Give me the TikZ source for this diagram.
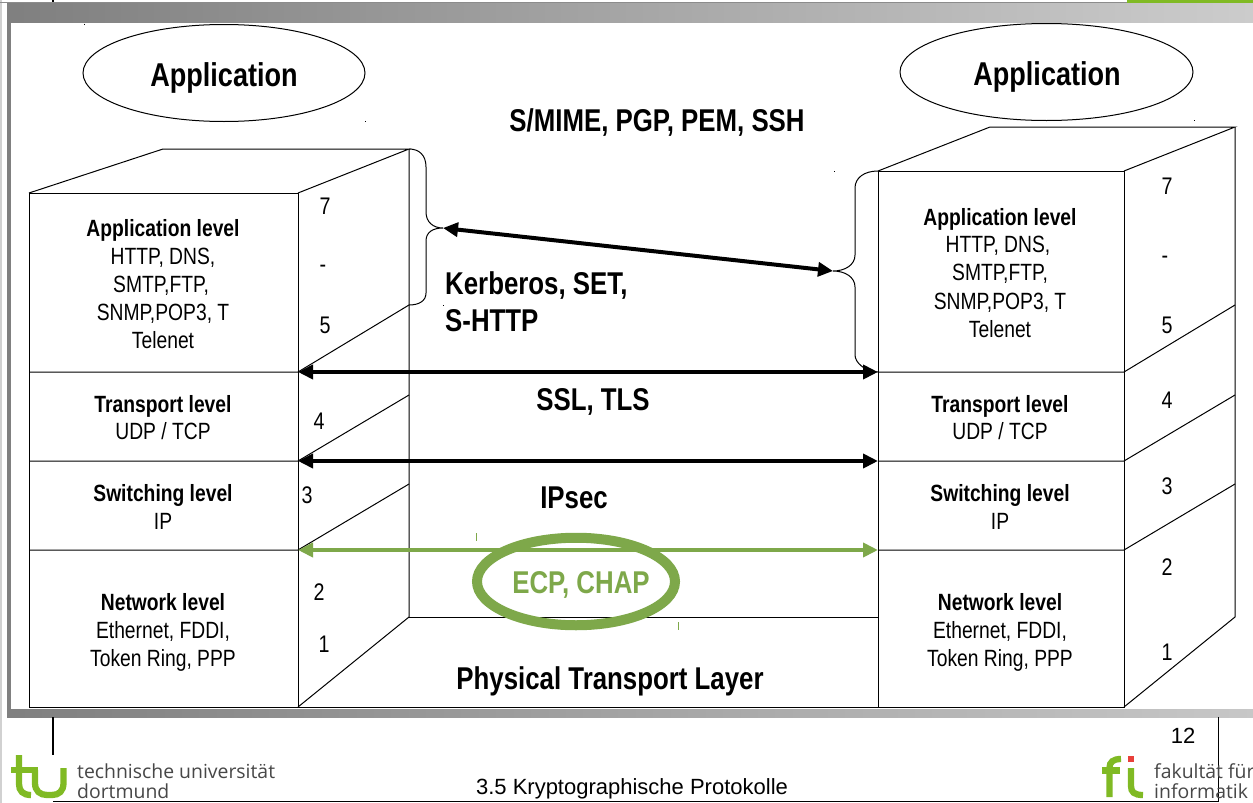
\documentclass[tikz,border=0pt]{standalone}
\usepackage{fontspec}
\setmainfont[FakeStretch=0.82]{Liberation Sans}
\newfontfamily\plainsans{Liberation Sans}
\newfontfamily\logofont{Open Sans}
\usetikzlibrary{arrows.meta,shapes.geometric}
\definecolor{tugreen}{HTML}{80BA24}
\definecolor{ecpgreen}{HTML}{7EA84A}
\definecolor{fired}{HTML}{E8403A}
\tikzset{
  x=1pt,y=-1pt,
  wire/.style={draw=black,line width=1pt},
  brace/.style={draw=black,line width=1pt},
  bigarrow/.style={line width=4pt,{Triangle[length=15pt,width=14pt]}-{Triangle[length=15pt,width=14pt]}},
  title/.style={font=\bfseries\fontsize{33}{36}\selectfont,inner sep=0pt,text height=24pt,text depth=7pt,yshift=-3.3pt},
  big/.style={font=\bfseries\fontsize{31.5}{34}\selectfont,inner sep=0pt,text height=22pt,text depth=6pt,yshift=-2.3pt},
  lvl/.style={font=\bfseries\fontsize{23.5}{26}\selectfont,inner sep=0pt,text height=16pt,text depth=5pt,yshift=-3pt},
  txt/.style={font=\fontsize{23.5}{26}\selectfont,inner sep=0pt,text height=16pt,text depth=5pt,yshift=-2.4pt},
  nr/.style={font=\fontsize{24}{26}\selectfont,inner sep=0pt,text height=17pt,text depth=0pt},
  logotext/.style={font=\logofont\fontsize{19.4}{21}\selectfont,text=black!72,inner sep=0pt,anchor=base west},
  dotmark/.style={draw=black,line width=0.6pt},
  tickmark/.style={draw=ecpgreen,line width=1pt},
  logostroke/.style={draw=tugreen,line width=6.3pt},
}
\begin{document}
\begin{tikzpicture}
\useasboundingbox (0,0) rectangle (1253,803);
\fill[white] (0,0) rectangle (1253,803);
% window frame
\fill[black!18] (0,0) rectangle (2,803);
\shade[left color=black!50,right color=black!20] (7,3) rectangle (1253,23);
\fill[black!50] (7,3) rectangle (11,717);
\shade[left color=black!50,right color=black!22] (7,709) rectangle (1253,717);
\fill[white] (11,23) rectangle (1253,708);
\fill[black!45] (0,2) rectangle (1127,3);
\fill[tugreen] (1127,0) rectangle (1253,2.5);
% slide lines
\draw[black,line width=1.4pt] (53,0) -- (53,2);
\draw[black,line width=1.4pt] (53,717) -- (53,755);
\draw[black,line width=1.4pt] (53,801.5) -- (1218.5,801.5) -- (1218.5,717);
% corner coordinates
\coordinate (la) at (29,193);
\coordinate (lb) at (298,193);
\coordinate (lc) at (163,149);
\coordinate (ld) at (409,149);
\coordinate (le) at (409,617);
\coordinate (lf) at (29,707);
\coordinate (lg) at (298,707);
\coordinate (ra) at (878,171);
\coordinate (rb) at (1124,171);
\coordinate (rc) at (990,127);
\coordinate (rd) at (1235,127);
\coordinate (re) at (1235,617);
\coordinate (rf) at (878,707);
\coordinate (rg) at (1124,707);
\coordinate (l5) at (298,372); \coordinate (l5b) at (409,305);
\coordinate (l4) at (298,461); \coordinate (l4b) at (409,395);
\coordinate (l3) at (298,550); \coordinate (l3b) at (409,484);
\coordinate (r5) at (878,372); \coordinate (r5s) at (1124,372); \coordinate (r5b) at (1235,305);
\coordinate (r4) at (878,461); \coordinate (r4s) at (1124,461); \coordinate (r4b) at (1235,395);
\coordinate (r3) at (878,550); \coordinate (r3s) at (1124,550); \coordinate (r3b) at (1235,484);
\coordinate (bl) at (443,228);
\coordinate (br) at (833,271);
% left stack
\draw[wire] (la) rectangle (lg);
\draw[wire] (lb) -- (lg);
\draw[wire] (la) -- (lc) -- (ld) -- (lb);
\draw[wire] (ld) -- (le) -- (lg);
\draw[wire] (29,372) -- (l5) -- (l5b);
\draw[wire] (29,461) -- (l4) -- (l4b);
\draw[wire] (29,550) -- (l3) -- (l3b);
\draw[wire] (le) -- (ra |- le) (lg) -- (rf);
% right stack
\draw[wire] (ra) rectangle (rg);
\draw[wire] (ra) -- (rc) -- (rd) -- (rb);
\draw[wire] (rd) -- (re) -- (rg);
\draw[wire] (r5) -- (r5s) -- (r5b);
\draw[wire] (r4) -- (r4s) -- (r4b);
\draw[wire] (r3) -- (r3s) -- (r3b);
% braces
\draw[brace] (ld) .. controls (419,149) and (426,155) .. (426,167) -- (426,212)
  .. controls (426,222) and (433,228) .. (bl)
  .. controls (433,228) and (426,232) .. (426,241) -- (426,293)
  .. controls (426,301) and (419,305) .. (l5b);
\draw[brace] (ra) .. controls (864,171) and (855,178) .. (855,188) -- (855,255)
  .. controls (855,265) and (845,271) .. (br)
  .. controls (845,271) and (855,277) .. (855,287) -- (855,355)
  .. controls (855,363) and (866,372) .. (r5);
% arrows
\draw[bigarrow] (bl) -- (br);
\draw[bigarrow] (l5) -- (r5);
\draw[bigarrow] (l4) -- (r4);
\draw[bigarrow,draw=ecpgreen,fill=ecpgreen] (l3) -- (r3);
% ellipses
\node[draw=black,line width=1pt,ellipse,minimum width=282pt,minimum height=97pt,inner sep=0pt] (appl) at (224,73) {};
\node[title] (appltext) at (224,75) {Application};
\node[draw=black,line width=1pt,ellipse,minimum width=293pt,minimum height=97pt,inner sep=0pt] (appr) at (1046.5,72) {};
\node[title] (apprtext) at (1047,74) {Application};
\node[draw=ecpgreen,line width=10pt,ellipse,minimum width=198pt,minimum height=87.5pt,inner sep=0pt] (ecp) at (576,581.5) {};
% protocol labels
\node[big] (smime) at (657,121) {S/MIME, PGP, PEM, SSH};
\node[big,anchor=center] (ssl) at (593,400) {SSL, TLS};
\node[big,anchor=west] (kerb1) at (445,284) {Kerberos, SET,};
\node[big,anchor=west] (kerb2) at (445,321) {S-HTTP};
\node[big] (ipsec) at (574,498) {IPsec};
\node[big,text=ecpgreen] (ecptext) at (581,583) {ECP, CHAP};
\node[big] (phys) at (610,679) {Physical Transport Layer};
% left box text
\node[lvl] (la1) at (163,228) {Application level};
\node[txt] (la2) at (163,257) {HTTP, DNS,};
\node[txt] (la3) at (161,285) {SMTP,FTP,};
\node[txt] (la4) at (163,313) {SNMP,POP3, T};
\node[txt] (la5) at (163,341) {Telenet};
\node[lvl] (lt1) at (163,404) {Transport level};
\node[txt] (lt2) at (163,432) {UDP / TCP};
\node[lvl] (ls1) at (163,493) {Switching level};
\node[txt] (ls2) at (163,522) {IP};
\node[lvl] (ln1) at (163,602) {Network level};
\node[txt] (ln2) at (163,631) {Ethernet, FDDI,};
\node[txt] (ln3) at (163,659) {Token Ring, PPP};
% right box text
\node[lvl] (ra1) at (1000,217) {Application level};
\node[txt] (ra2) at (998,245) {HTTP, DNS,};
\node[txt] (ra3) at (1000,273) {SMTP,FTP,};
\node[txt] (ra4) at (1000,302) {SNMP,POP3, T};
\node[txt] (ra5) at (1000,330) {Telenet};
\node[lvl] (rt1) at (1000,404) {Transport level};
\node[txt] (rt2) at (1000,432) {UDP / TCP};
\node[lvl] (rs1) at (1000,493) {Switching level};
\node[txt] (rs2) at (1000,522) {IP};
\node[lvl] (rn1) at (1000,602) {Network level};
\node[txt] (rn2) at (1000,631) {Ethernet, FDDI,};
\node[txt] (rn3) at (1000,659) {Token Ring, PPP};
% layer numbers
\node[nr] (n7) at (325,206) {7};
\node[nr] (nd) at (323,264) {-};
\node[nr] (n5) at (325,325) {5};
\node[nr] (n4) at (319,421) {4};
\node[nr] (n3) at (307,495) {3};
\node[nr] (n2) at (319,592) {2};
\node[nr] (n1) at (324,644) {1};
\node[nr] (m7) at (1167,186) {7};
\node[nr] (md) at (1165,255) {-};
\node[nr] (m5) at (1167,325) {5};
\node[nr] (m4) at (1167,400) {4};
\node[nr] (m3) at (1167,486) {3};
\node[nr] (m2) at (1167,567) {2};
\node[nr] (m1) at (1167,652) {1};
% stray marks
\draw[tickmark] (476,533) -- (476,541);
\draw[tickmark] (678,622) -- (678,630);
\draw[dotmark] (84,23.5) -- (84,24.5);
\draw[dotmark] (1194,120) -- (1194,121);
\draw[dotmark] (834,171) -- (834,172);
\draw[dotmark] (443,305) -- (443,306);
\draw[dotmark] (365,121) -- (365,122);
% footer
\node[font=\plainsans\fontsize{22}{24}\selectfont,inner sep=0pt,anchor=base] (page) at (1183,743) {12};
\node[font=\plainsans\fontsize{22}{24}\selectfont,inner sep=0pt,anchor=base] (sect) at (632,794) {3.5 Kryptographische Protokolle};
% tu logo
\draw[logostroke] (19,755) -- (19,784) .. controls (19,791) and (23,795) .. (31,795);
\draw[logostroke] (11,770) -- (38,770);
\draw[logostroke] (35,770) -- (35,783) .. controls (35,791) and (40,795) .. (47,795) -- (52,795)
  .. controls (59,795) and (63.5,791) .. (63.5,783) -- (63.5,768);
\node[logotext] (tu1) at (77,778) {technische universität};
\node[logotext] (tu2) at (77,798) {dortmund};
% fi logo
\draw[logostroke] (1109.5,797) -- (1109.5,768) .. controls (1109.5,762) and (1113,759) .. (1121,759);
\draw[logostroke] (1102,770.5) -- (1120,770.5);
\draw[logostroke] (1131,768) -- (1131,786) .. controls (1131,792) and (1134,795) .. (1143,795);
\fill[fired] (1128,756) rectangle (1134,762);
\node[logotext] (fi1) at (1154,778) {fakultät für};
\node[logotext] (fi2) at (1154,798) {informatik};
\end{tikzpicture}
\end{document}
